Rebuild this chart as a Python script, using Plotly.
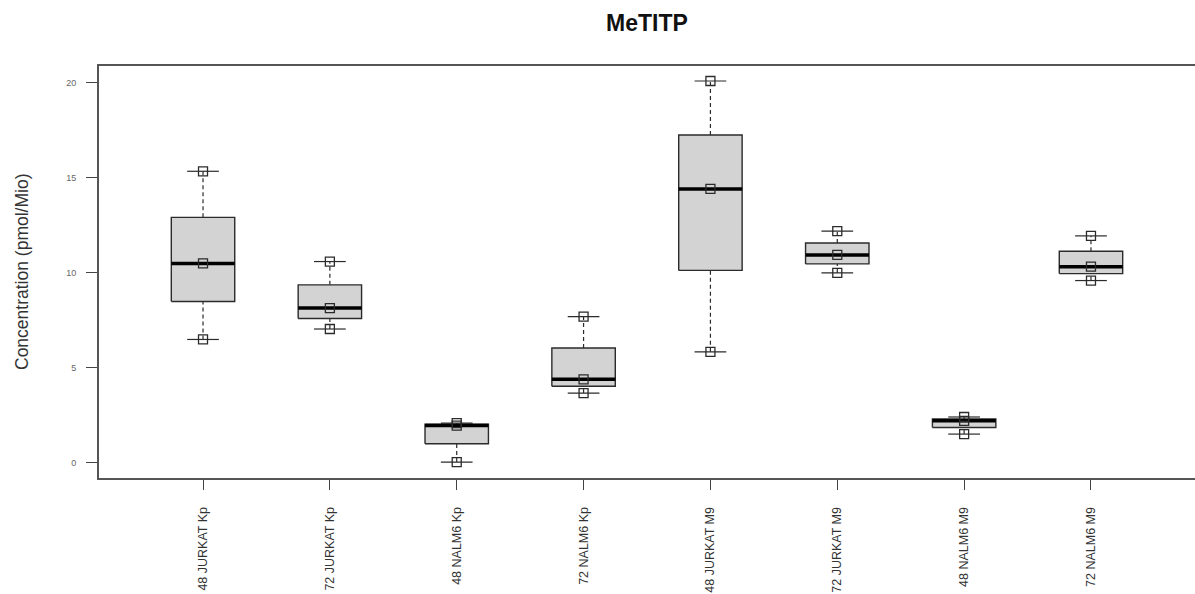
import math
import plotly.graph_objects as go

# ---- data ----
groups = ["48 JURKAT Kp", "72 JURKAT Kp", "48 NALM6 Kp", "72 NALM6 Kp",
          "48 JURKAT M9", "72 JURKAT M9", "48 NALM6 M9", "72 NALM6 M9"]
jurkat_kp_48 = [6.5, 10.5, 15.35]
jurkat_kp_72 = [7.05, 8.15, 10.6]
nalm6_kp_48 = [0.05, 1.97, 2.1]
nalm6_kp_72 = [3.68, 4.4, 7.7]
jurkat_m9_48 = [5.85, 14.42, 20.1]
jurkat_m9_72 = [10.0, 10.95, 12.2]
nalm6_m9_48 = [1.52, 2.22, 2.42]
nalm6_m9_72 = [9.6, 10.33, 11.95]
series = [jurkat_kp_48, jurkat_kp_72, nalm6_kp_48, nalm6_kp_72,
          jurkat_m9_48, jurkat_m9_72, nalm6_m9_48, nalm6_m9_72]
y_ticks = [0, 5, 10, 15, 20]

title_text = "MeTITP"
y_title = "Concentration (pmol/Mio)"

FONT = "Liberation Sans, Arial, sans-serif"


def fivenum(vals):
    x = sorted(vals)
    n = len(x)
    n4 = math.floor((n + 3) / 2) / 2
    d = [1, n4, (n + 1) / 2, n + 1 - n4, n]
    return [0.5 * (x[math.floor(k) - 1] + x[math.ceil(k) - 1]) for k in d]


def box_stats(vals):
    mn, q1, med, q3, mx = fivenum(vals)
    iqr = q3 - q1
    lo = min(v for v in vals if v >= q1 - 1.5 * iqr)
    hi = max(v for v in vals if v <= q3 + 1.5 * iqr)
    return lo, q1, med, q3, hi


HALF = 0.25   # half box width (category units)
CAP = 0.125   # half staple width

fig = go.Figure()
line_col = "#2b2b2b"

for i, vals in enumerate(series, start=1):
    lo, q1, med, q3, hi = box_stats(vals)
    # dashed whiskers
    fig.add_trace(go.Scatter(
        x=[i, i, None, i, i], y=[lo, q1, None, q3, hi], mode="lines",
        line=dict(color=line_col, width=1.2, dash="4px,3px"),
        hoverinfo="skip", showlegend=False))
    # staples
    fig.add_trace(go.Scatter(
        x=[i - CAP, i + CAP, None, i - CAP, i + CAP], y=[lo, lo, None, hi, hi],
        mode="lines", line=dict(color=line_col, width=1.2),
        hoverinfo="skip", showlegend=False))
    # box
    fig.add_trace(go.Scatter(
        x=[i - HALF, i + HALF, i + HALF, i - HALF, i - HALF],
        y=[q1, q1, q3, q3, q1], mode="lines", fill="toself",
        fillcolor="#d3d3d3", line=dict(color=line_col, width=1.4),
        hoverinfo="skip", showlegend=False))
    # median
    fig.add_trace(go.Scatter(
        x=[i - HALF, i + HALF], y=[med, med], mode="lines",
        line=dict(color="#000000", width=3.5),
        hoverinfo="skip", showlegend=False))

# data points
for i, vals in enumerate(series, start=1):
    fig.add_trace(go.Scatter(
        x=[i] * len(vals), y=vals, mode="markers",
        marker=dict(symbol="square-open", size=9,
                    line=dict(color=line_col, width=1.3), color=line_col),
        showlegend=False, name=groups[i - 1]))

fig.update_layout(
    width=1195, height=594,
    margin=dict(l=99, r=0, t=66, b=116),
    paper_bgcolor="white", plot_bgcolor="white",
    font=dict(family=FONT, color="#333333"),
    title=dict(text="<b>" + title_text + "</b>", x=0.5, xref="paper",
               xanchor="center", y=1 - 23 / 594, yref="container",
               yanchor="middle",
               font=dict(size=23, family=FONT, color="#111111")),
    showlegend=False,
)

fig.update_xaxes(
    range=[0.18, 8.82], tickmode="array", tickvals=list(range(1, len(groups) + 1)),
    ticktext=groups, tickangle=-90, ticks="outside", ticklen=10, tickwidth=1,
    tickcolor="#444444", showline=True, linecolor="#555555", linewidth=2,
    mirror=True, showgrid=False, zeroline=False,
    tickfont=dict(size=12.5, family=FONT, color="#333333"),
    ticklabelstandoff=12,
)
fig.update_yaxes(
    range=[-0.79, 20.89], tickmode="array", tickvals=y_ticks,
    ticktext=[str(v) for v in y_ticks], ticks="outside", ticklen=11,
    tickwidth=1, tickcolor="#444444", showline=True, linecolor="#555555",
    linewidth=2, mirror=False, showgrid=False, zeroline=False,
    tickfont=dict(size=9, family=FONT, color="#666666"),
    ticklabelstandoff=8,
)

fig.add_annotation(
    text=y_title, xref="paper", yref="paper", x=(22 - 99) / 1096, y=0.5,
    xanchor="center", yanchor="middle", textangle=-90, showarrow=False,
    font=dict(size=17.5, family=FONT, color="#333333"))

fig.write_html(
    "out.html",
    config={"displayModeBar": False},
    post_script="document.body.style.margin='0';document.body.style.overflow='hidden';",
)
